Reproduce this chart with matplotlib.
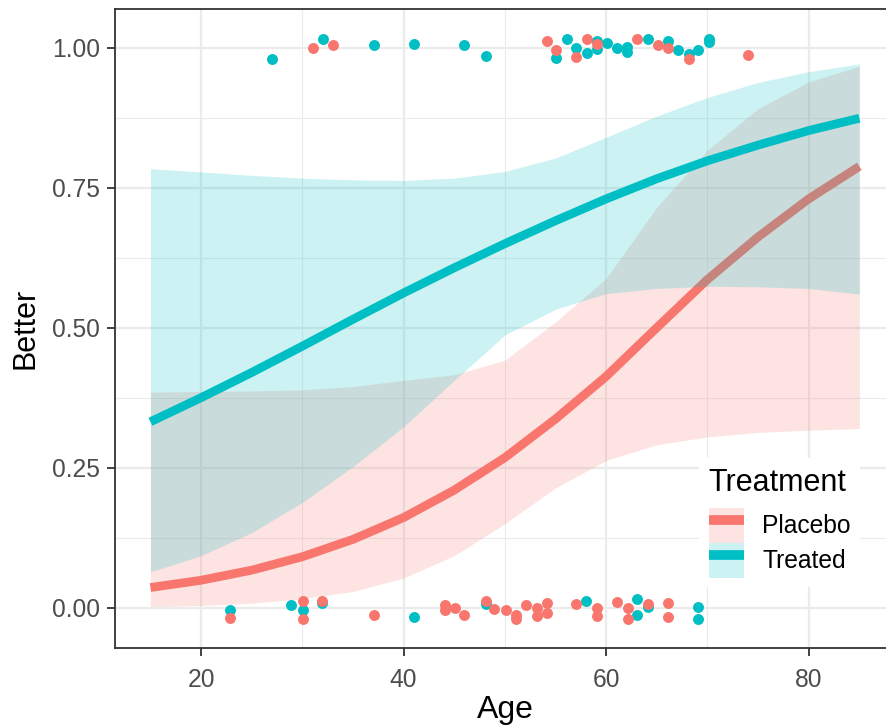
import numpy as np
import matplotlib
matplotlib.use("Agg")
from matplotlib import pyplot as plt
from matplotlib.patches import Patch
from matplotlib.lines import Line2D
from matplotlib.ticker import MultipleLocator

plt.rcParams['font.family'] = ['Liberation Sans', 'DejaVu Sans']

# cores padrão do ggplot
cor_placebo = "#F8766D"
cor_treated = "#00BFC4"

# pontos (idade, Better com jitter)
treated_idade = [27.0, 32.0, 37.1, 41.0, 46.0, 48.1, 55.06, 56.1, 57.04, 58.1, 59.14, 59.14,
                 60.07, 61.05, 62.1, 62.1, 64.1, 66.1, 67.13, 68.2, 69.1, 70.16, 70.16,
                 22.9, 28.9, 30.07, 31.94, 41.05, 48.1, 58.0, 63.09, 63.09, 64.1, 69.1, 69.1]
treated_better = [0.979, 1.015, 1.004, 1.007, 1.004, 0.985, 0.981, 1.016, 0.999, 0.990, 1.012, 0.997,
                  1.009, 1.000, 1.002, 0.993, 1.015, 1.012, 0.996, 0.988, 0.996, 1.015, 1.010,
                  -0.005, 0.004, -0.005, 0.008, -0.016, 0.007, 0.0125, 0.015, -0.013, 0.001, 0.002, -0.020]

placebo_idade = [31.05, 33.03, 54.15, 55.06, 57.04, 58.1, 59.14, 63.03, 65.1, 66.1, 68.2, 74.04,
                 22.9, 30.07, 30.07, 31.94, 37.1, 44.04, 44.04, 45.1, 46.0, 48.1, 48.95, 50.1,
                 51.1, 51.1, 52.07, 53.16, 53.16, 54.15, 54.15, 57.0, 59.08, 59.08, 61.05,
                 62.14, 62.14, 64.1, 66.09, 66.09]
placebo_better = [1.000, 1.004, 1.012, 0.996, 0.984, 1.015, 1.006, 1.016, 1.004, 1.000, 0.980, 0.987,
                  -0.019, 0.0125, -0.021, 0.0125, -0.013, 0.004, -0.004, -0.001, -0.013, 0.0125, -0.002, -0.005,
                  -0.013, -0.021, 0.004, -0.001, -0.014, 0.008, -0.010, 0.006, -0.001, -0.014, 0.0096,
                  -0.001, -0.021, 0.006, 0.008, -0.016]

# curvas ajustadas e faixas (lidas a cada 5 anos)
idade_curva = [15, 20, 25, 30, 35, 40, 45, 50, 55, 60, 65, 70, 75, 80, 85]
treated_fit = [0.332, 0.375, 0.420, 0.467, 0.515, 0.562, 0.607, 0.650, 0.691, 0.730, 0.766, 0.798, 0.826, 0.852, 0.874]
treated_sup = [0.784, 0.778, 0.772, 0.767, 0.764, 0.763, 0.767, 0.779, 0.803, 0.840, 0.878, 0.911, 0.938, 0.957, 0.971]
treated_inf = [0.064, 0.093, 0.134, 0.188, 0.252, 0.323, 0.406, 0.487, 0.533, 0.561, 0.570, 0.574, 0.573, 0.570, 0.560]
placebo_fit = [0.036, 0.049, 0.067, 0.091, 0.122, 0.161, 0.210, 0.268, 0.337, 0.413, 0.500, 0.586, 0.662, 0.730, 0.788]
placebo_sup = [0.385, 0.386, 0.387, 0.389, 0.395, 0.406, 0.416, 0.442, 0.510, 0.588, 0.715, 0.817, 0.891, 0.939, 0.967]
placebo_inf = [0.002, 0.004, 0.008, 0.016, 0.029, 0.053, 0.093, 0.150, 0.214, 0.263, 0.291, 0.305, 0.313, 0.317, 0.320]

fig = plt.figure(figsize=(8.86, 7.25), dpi=100)
ax = fig.add_axes([0.1298, 0.1058, 0.8801, 0.8818])

ax.scatter(treated_idade, treated_better, s=62, color=cor_treated, linewidths=0, zorder=2)
ax.scatter(placebo_idade, placebo_better, s=62, color=cor_placebo, linewidths=0, zorder=2)

ax.fill_between(idade_curva, placebo_inf, placebo_sup, color=cor_placebo, alpha=0.2, linewidth=0, zorder=3)
ax.plot(idade_curva, placebo_fit, color=cor_placebo, lw=6.3, solid_capstyle='butt', zorder=3)
ax.fill_between(idade_curva, treated_inf, treated_sup, color=cor_treated, alpha=0.2, linewidth=0, zorder=3)
ax.plot(idade_curva, treated_fit, color=cor_treated, lw=6.3, solid_capstyle='butt', zorder=3)

ax.set_xlim(11.5, 88.5)
ax.set_ylim(-0.0725, 1.0691)
ax.xaxis.set_major_locator(MultipleLocator(20))
ax.xaxis.set_minor_locator(MultipleLocator(10))
ax.yaxis.set_major_locator(MultipleLocator(0.25))
ax.yaxis.set_minor_locator(MultipleLocator(0.125))
ax.set_yticks([0, 0.25, 0.5, 0.75, 1.0])
ax.set_yticklabels(["0.00", "0.25", "0.50", "0.75", "1.00"])

ax.set_axisbelow(True)
ax.grid(which='major', color='#EBEBEB', lw=1.6)
ax.grid(which='minor', color='#EBEBEB', lw=0.8)
for s in ax.spines.values():
    s.set_color('#333333')
    s.set_linewidth(1.3)

ax.tick_params(which='major', length=6, width=1.3, color='#333333', labelsize=17.7,
               labelcolor='#4D4D4D')
ax.tick_params(axis='x', which='major', pad=8)
ax.tick_params(axis='y', which='major', pad=5)
ax.tick_params(which='minor', length=0)

ax.set_xlabel("Age", fontsize=23, labelpad=2)
ax.set_ylabel("Better", fontsize=22, labelpad=8)

# legenda
handles = [(Patch(facecolor=cor_placebo, alpha=0.2, edgecolor='none'),
            Line2D([], [], color=cor_placebo, lw=7, solid_capstyle='butt')),
           (Patch(facecolor=cor_treated, alpha=0.2, edgecolor='none'),
            Line2D([], [], color=cor_treated, lw=7, solid_capstyle='butt'))]
leg = ax.legend(handles, ["Placebo", "Treated"], title="Treatment", loc='lower left',
                bbox_to_anchor=(0.733, 0.076), fontsize=17.7, title_fontsize=22,
                frameon=True, facecolor='white', edgecolor='none', framealpha=1,
                handlelength=1.42, handleheight=1.81, labelspacing=0, handletextpad=0.75,
                borderpad=0.4, fancybox=False)
leg._legend_box.align = "left"
leg._legend_box.sep = 7

fig.savefig("out.png", dpi=100)
